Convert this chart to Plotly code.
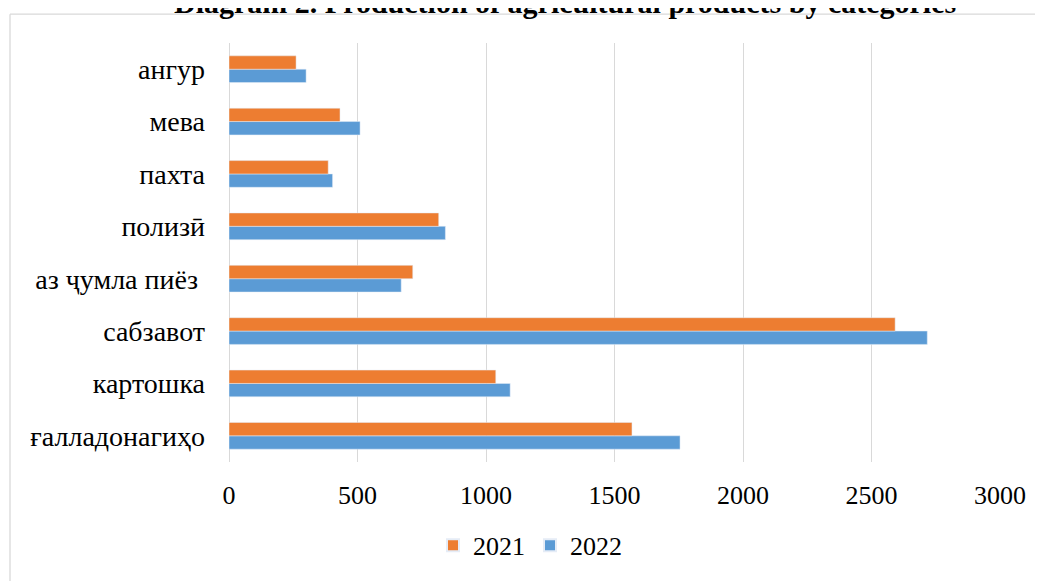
import plotly.graph_objects as go

categories = ["ғалладонагиҳо", "картошка", "сабзавот", "аз ҷумла пиёз\u00a0", "полизӣ", "пахта", "мева", "ангур"]
values_2021 = [1568, 1038, 2592, 715, 816, 386, 432, 261]
values_2022 = [1755, 1094, 2717, 670, 842, 403, 510, 300]
x_ticks = [0, 500, 1000, 1500, 2000, 2500, 3000]
title_text = "Diagram 2. Production of agricultural products by categories"

# page has an 8px body margin; work in figure coordinates
OFF = 8
W, H = 1043 - OFF, 581 - OFF
L, R, T, B = 229 - OFF, 1000 - OFF, 43 - OFF, 465 - OFF

FONT = "Liberation Serif"

fig = go.Figure()
fig.add_trace(go.Bar(y=categories, x=values_2022, name="2022", orientation="h",
                     marker=dict(color="#5B9BD5"), legendrank=2))
fig.add_trace(go.Bar(y=categories, x=values_2021, name="2021", orientation="h",
                     marker=dict(color="#ED7D31"), legendrank=1))

def px_x(p):
    return (p - OFF - L) / (R - L)

def px_y(p):
    return (B - (p - OFF)) / (B - T)

fig.update_layout(
    width=W, height=H,
    margin=dict(l=L, r=W - R, t=T, b=H - B, pad=0),
    paper_bgcolor="white", plot_bgcolor="white",
    barmode="group", bargap=0.49, bargroupgap=0,
    font=dict(family=FONT, size=26, color="#000000"),
    showlegend=True,
    legend=dict(orientation="h", x=px_x(530), xanchor="center", y=px_y(549), yanchor="middle",
                font=dict(family=FONT, size=26), itemsizing="constant", traceorder="normal",
                itemwidth=30, tracegroupgap=0),
    xaxis=dict(range=[0, 3000], tickvals=x_ticks, ticktext=[str(v) for v in x_ticks],
               showgrid=True, gridcolor="#d9d9d9", gridwidth=1.3,
               zeroline=True, zerolinecolor="#d9d9d9", zerolinewidth=1.3,
               showline=False, ticks="", ticklabelstandoff=15,
               tickfont=dict(family=FONT, size=26)),
    yaxis=dict(type="category", categoryorder="array", categoryarray=categories,
               showgrid=False, showline=False, ticks="", ticklabelstandoff=23,
               tickfont=dict(family=FONT, size=28)),
    annotations=[dict(text="<b>" + title_text + "</b>", xref="paper", yref="paper",
                      x=px_x(565), y=px_y(21), xanchor="center", yanchor="bottom",
                      showarrow=False, font=dict(family=FONT, size=30, color="#000000"))],
    shapes=[
        dict(type="line", xref="paper", yref="paper", x0=px_x(10), x1=px_x(10),
             y0=px_y(14), y1=px_y(600), line=dict(color="#d9d9d9", width=1.3)),
        dict(type="line", xref="paper", yref="paper", x0=px_x(10), x1=px_x(1060),
             y0=px_y(14), y1=px_y(14), line=dict(color="#d9d9d9", width=1.3)),
    ],
)

fig.write_html("out.html")
